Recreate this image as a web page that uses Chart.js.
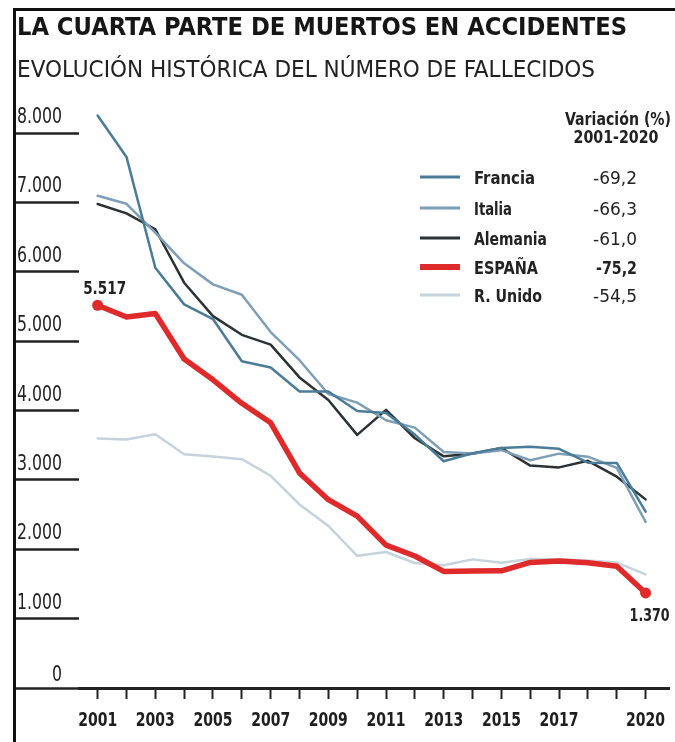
<!DOCTYPE html>
<html>
<head>
<meta charset="utf-8">
<script src="https://cdn.jsdelivr.net/npm/chart.js@4.4.1/dist/chart.umd.min.js"></script>
<style>
  body { margin: 0; background: #fff; }
  #wrap { position: relative; width: 675px; height: 742px; overflow: hidden; background: #fff; }
  #grafico { position: absolute; left: 0; top: 0; }
  #marco { position: absolute; left: 13px; top: 8px; width: 700px; height: 800px;
           border-left: 3px solid #111; border-top: 3px solid #111; pointer-events: none; }
</style>
</head>
<body>
<div id="wrap">
  <canvas id="grafico" width="675" height="742"></canvas>
  <div id="marco"></div>
</div>
<script>
// Datos: fallecidos en accidentes de tráfico 2001-2020
var anhos = [2001, 2002, 2003, 2004, 2005, 2006, 2007, 2008, 2009, 2010,
             2011, 2012, 2013, 2014, 2015, 2016, 2017, 2018, 2019, 2020];
var francia  = [8253, 7655, 6058, 5530, 5318, 4709, 4620, 4275, 4273, 3992, 3963, 3653, 3268, 3384, 3461, 3477, 3448, 3248, 3244, 2541];
var italia   = [7096, 6980, 6563, 6122, 5818, 5669, 5131, 4725, 4237, 4114, 3860, 3753, 3401, 3381, 3428, 3283, 3378, 3334, 3173, 2395];
var alemania = [6977, 6842, 6613, 5842, 5361, 5091, 4949, 4477, 4152, 3648, 4009, 3600, 3339, 3377, 3459, 3206, 3180, 3275, 3046, 2719];
var espana   = [5517, 5347, 5399, 4741, 4442, 4104, 3823, 3100, 2714, 2478, 2060, 1903, 1680, 1688, 1689, 1810, 1830, 1806, 1755, 1370];
var rUnido   = [3598, 3581, 3658, 3368, 3336, 3298, 3059, 2645, 2337, 1905, 1960, 1802, 1770, 1854, 1804, 1860, 1856, 1839, 1808, 1637];

var paises     = ['Francia', 'Italia', 'Alemania', 'ESPAÑA', 'R. Unido'];
var variacion  = ['-69,2', '-66,3', '-61,0', '-75,2', '-54,5'];
var ticksY     = [0, 1000, 2000, 3000, 4000, 5000, 6000, 7000, 8000];
var etiquetasX = [2001, 2003, 2005, 2007, 2009, 2011, 2013, 2015, 2017, 2020];

var titulo    = 'LA CUARTA PARTE DE MUERTOS EN ACCIDENTES';
var subtitulo = 'EVOLUCIÓN HISTÓRICA DEL NÚMERO DE FALLECIDOS';

var colores = ['#4b7c97', '#7e9fb6', '#2d3134', '#de2a2a', '#c6d3dc'];
var grosor  = [2.5, 2.5, 2.5, 5.5, 2.5];

var FUENTE = '"Liberation Sans Narrow", "DejaVu Sans Condensed", sans-serif';

function miles(n) {
  return String(n).replace(/\B(?=(\d{3})+(?!\d))/g, '.');
}

// dibuja un texto comprimido en horizontal (sx) o ajustado a un ancho
function texto(ctx, txt, x, y, font, ancho, align, sx) {
  ctx.save();
  ctx.font = font;
  var m = ctx.measureText(txt).width;
  var s = sx ? sx : ancho / m;
  var w = m * s;
  var x0 = align === 'center' ? x - w / 2 : (align === 'right' ? x - w : x);
  ctx.translate(x0, y);
  ctx.scale(s, 1);
  ctx.textAlign = 'left';
  ctx.textBaseline = 'alphabetic';
  ctx.fillText(txt, 0, 0);
  ctx.restore();
}

function escala(ctx, muestra, font, ancho) {
  ctx.save();
  ctx.font = font;
  var s = ancho / ctx.measureText(muestra).width;
  ctx.restore();
  return s;
}

var series = [francia, italia, alemania, espana, rUnido];
var datasets = series.map(function(serie, i) {
  var esEspana = paises[i] === 'ESPAÑA';
  return {
    label: paises[i],
    data: serie,
    borderColor: colores[i],
    backgroundColor: colores[i],
    borderWidth: grosor[i],
    borderJoinStyle: 'round',
    borderCapStyle: 'round',
    tension: 0,
    clip: false,
    order: esEspana ? 0 : 1,
    pointRadius: function(c) {
      if (!esEspana) return 0;
      return (c.dataIndex === 0 || c.dataIndex === serie.length - 1) ? 5.5 : 0;
    },
    pointBorderWidth: 0
  };
});

// textos: título, ejes, leyenda y etiquetas de España
var textos = {
  id: 'textos',
  afterDraw: function(chart) {
    var ctx = chart.ctx;
    ctx.fillStyle = '#161616';
    texto(ctx, titulo, 17, 35, 'bold 24px ' + FUENTE, 610, 'left');
    ctx.fillStyle = '#222';
    texto(ctx, subtitulo, 17, 77, '23px ' + FUENTE, 578, 'left');

    // etiquetas del eje Y
    var fy = '21px ' + FUENTE;
    var sy = escala(ctx, '8.000', fy, 45);
    ctx.fillStyle = '#222';
    ticksY.forEach(function(v) {
      var py = chart.scales.y.getPixelForValue(v);
      texto(ctx, miles(v), 62, py - (v === 0 ? 7 : 10), fy, 0, 'right', sy);
    });

    // etiquetas del eje X
    var fx = 'bold 20px ' + FUENTE;
    var sx = escala(ctx, '2001', fx, 39);
    ctx.fillStyle = '#1e1e1e';
    etiquetasX.forEach(function(v) {
      var px = chart.scales.x.getPixelForValue(v);
      texto(ctx, String(v), px, 726, fx, 0, 'center', sx);
    });

    // leyenda
    ctx.fillStyle = '#222';
    texto(ctx, 'Variación (%)', 618, 125, 'bold 18px ' + FUENTE, 106, 'center');
    texto(ctx, '2001-2020', 616, 143, 'bold 18px ' + FUENTE, 85, 'center');

    var filas = [177, 208, 238, 267, 295];
    var anchos = [61, 38, 73, 64, 68];
    paises.forEach(function(p, i) {
      var y = filas[i];
      ctx.save();
      ctx.strokeStyle = colores[i];
      ctx.lineWidth = i === 3 ? 6 : 3;
      ctx.beginPath();
      ctx.moveTo(420, y);
      ctx.lineTo(460, y);
      ctx.stroke();
      ctx.restore();
      ctx.fillStyle = '#222';
      texto(ctx, p, 474, y + 6.5, 'bold 18px ' + FUENTE, anchos[i], 'left');
      texto(ctx, variacion[i], 637, y + 6.5, (i === 3 ? 'bold ' : '') + '18px ' + FUENTE, i === 3 ? 41 : 44, 'right');
    });

    // valores inicial y final de España
    var meta = chart.getDatasetMeta(3);
    var p0 = meta.data[0];
    var p1 = meta.data[meta.data.length - 1];
    ctx.fillStyle = '#222';
    texto(ctx, miles(espana[0]), p0.x + 7, p0.y - 11, 'bold 18px ' + FUENTE, 43, 'center');
    texto(ctx, miles(espana[espana.length - 1]), p1.x + 4, p1.y + 28, 'bold 18px ' + FUENTE, 40, 'center');
  }
};

var grafico = new Chart(document.getElementById('grafico').getContext('2d'), {
  type: 'line',
  data: {
    labels: anhos,
    datasets: datasets
  },
  options: {
    responsive: false,
    animation: false,
    events: [],
    layout: { padding: { left: 15, right: 3, top: 133, bottom: 10 } },
    plugins: {
      legend: { display: false },
      tooltip: { enabled: false }
    },
    scales: {
      x: {
        type: 'linear',
        min: 2000.354,
        max: 2020.829,
        afterBuildTicks: function(s) {
          s.ticks = anhos.map(function(v) { return { value: v }; });
        },
        afterFit: function(s) { s.height = 44; },
        ticks: { display: false },
        grid: { drawOnChartArea: false, drawTicks: true, tickLength: 11, tickWidth: 2, tickColor: '#222' },
        border: { display: true, color: '#222', width: 3 }
      },
      y: {
        min: 0,
        max: 8000,
        afterBuildTicks: function(s) {
          s.ticks = ticksY.map(function(v) { return { value: v }; });
        },
        afterFit: function(s) { s.width = 64; },
        ticks: { display: false },
        grid: { drawOnChartArea: false, drawTicks: true, tickLength: 64, tickWidth: 2.5, tickColor: '#222' },
        border: { display: false }
      }
    }
  },
  plugins: [textos]
});
</script>
</body>
</html>
